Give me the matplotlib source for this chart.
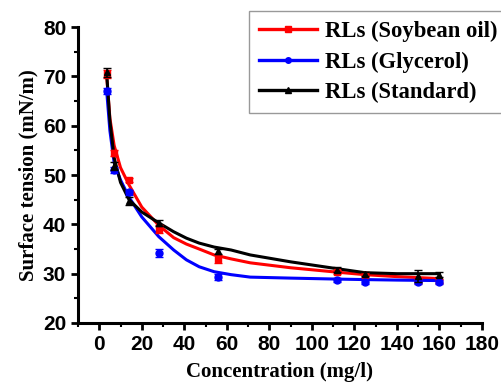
import matplotlib.pyplot as plt
from matplotlib.ticker import MultipleLocator

# measured points
conc = [3.5, 7, 14, 28, 56, 112, 125, 150, 160]
soy = [70.5, 54.5, 49.0, 39.0, 33.0, 30.3, 29.7, 28.6, 28.6]
soy_err = [0.8, 0.6, 0.5, 0.8, 0.8, 0.4, 0.4, 0.5, 0.4]
gly = [67.0, 51.0, 46.5, 34.2, 29.3, 28.8, 28.4, 28.4, 28.4]
gly_err = [0.6, 0.6, 0.5, 0.8, 0.6, 0.4, 0.4, 0.4, 0.4]
std = [70.8, 51.8, 44.8, 40.2, 34.5, 30.8, 30.0, 29.6, 29.8]
std_err = [1.0, 0.8, 0.8, 0.6, 0.6, 0.5, 0.4, 1.2, 0.5]

# fitted curves
cx = [3.5, 5, 7, 10, 14, 20, 28, 35, 41, 47, 54, 62, 71, 90, 112, 125, 140, 160]
soy_fit = [70.0, 61.5, 56.0, 51.5, 48.0, 43.5, 39.8, 37.3, 36.0, 35.0, 33.8, 33.0, 32.2, 31.2, 30.3, 29.8, 29.4, 29.0]
gly_fit = [67.0, 59.0, 52.5, 49.0, 45.5, 41.5, 37.5, 34.8, 32.8, 31.4, 30.4, 29.8, 29.3, 29.1, 28.9, 28.8, 28.7, 28.6]
std_fit = [70.5, 61.0, 53.5, 48.5, 45.0, 42.5, 40.3, 38.5, 37.2, 36.2, 35.4, 34.8, 33.8, 32.4, 31.0, 30.2, 30.0, 30.0]

labels = ['RLs (Soybean oil)', 'RLs (Glycerol)', 'RLs (Standard)']

fig = plt.figure(figsize=(5.01, 3.82), dpi=100)
ax = fig.add_axes([0.1557, 0.1545, 0.8063, 0.7745])

ax.plot(cx, soy_fit, color='red', lw=2.2, zorder=3)
ax.plot(cx, gly_fit, color='blue', lw=2.2, zorder=3)
ax.plot(cx, std_fit, color='black', lw=2.2, zorder=4)

ax.errorbar(conc, soy, yerr=soy_err, fmt='s', color='red', ms=5, capsize=3, elinewidth=1.2, zorder=5)
ax.errorbar(conc, gly, yerr=gly_err, fmt='o', color='blue', ms=5, capsize=3, elinewidth=1.2, zorder=5)
ax.errorbar(conc, std, yerr=std_err, fmt='^', color='black', ms=5, capsize=3, elinewidth=1.2, zorder=6)

# legend handles
h1, = ax.plot([], [], color='red', lw=2.4, marker='s', ms=4)
h2, = ax.plot([], [], color='blue', lw=2.4, marker='o', ms=4)
h3, = ax.plot([], [], color='black', lw=2.4, marker='^', ms=4)
leg = fig.legend([h1, h2, h3], labels, loc='upper left',
                 bbox_to_anchor=(249 / 501, 1 - 11 / 382),
                 prop={'family': 'Liberation Serif', 'weight': 'bold', 'size': 16.3},
                 handlelength=2.55, handletextpad=0.35, labelspacing=0.4,
                 borderpad=0.45, borderaxespad=0, fancybox=False, framealpha=1)
leg.get_frame().set_edgecolor('#999999')
leg.get_frame().set_linewidth(1.0)

ax.set_xlim(-10, 180)
ax.set_ylim(20, 80)
ax.xaxis.set_major_locator(MultipleLocator(20))
ax.xaxis.set_minor_locator(MultipleLocator(10))
ax.yaxis.set_major_locator(MultipleLocator(10))
ax.yaxis.set_minor_locator(MultipleLocator(5))

for s in ['top', 'right']:
    ax.spines[s].set_visible(False)
for s in ['left', 'bottom']:
    ax.spines[s].set_linewidth(2.2)

ax.tick_params(which='major', length=5, width=2, direction='out')
ax.tick_params(which='minor', length=3, width=1.5, direction='out')
for t in ax.get_xticklabels() + ax.get_yticklabels():
    t.set_family('Liberation Sans')
    t.set_weight('bold')
    t.set_size(15)

ax.set_xlabel('Concentration (mg/l)', family='Liberation Serif', weight='bold', size=15, labelpad=6)
ax.set_ylabel('Surface tension (mN/m)', family='Liberation Serif', weight='bold', size=15, labelpad=3)

fig.savefig('out.png', dpi=100)
